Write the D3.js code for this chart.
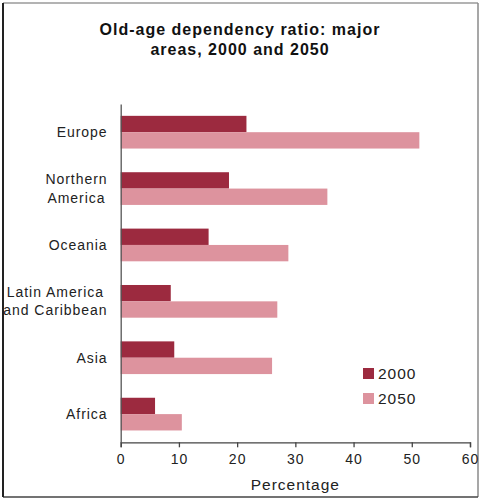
<!DOCTYPE html>
<html>
<head>
<meta charset="utf-8">
<script src="https://cdn.jsdelivr.net/npm/d3@7/dist/d3.min.js"></script>
<style>
  html, body { margin: 0; padding: 0; background: #fff; }
  svg { display: block; font-family: "Liberation Sans", Arial, sans-serif; }
</style>
</head>
<body>
<svg id="chart" width="480" height="500"></svg>
<script>
// Old-age dependency ratio by major area (percent)
const areas = ["Europe", "Northern America", "Oceania", "Latin America and Caribbean", "Asia", "Africa"];
const areaLines = [["Europe"], ["Northern", "America"], ["Oceania"], ["Latin America", "and Caribbean"], ["Asia"], ["Africa"]];
const years = ["2000", "2050"];
const values2000 = [21.6, 18.6, 15.1, 8.6, 9.2, 5.9];
const values2050 = [51.3, 35.5, 28.8, 26.9, 26.0, 10.5];
const xTicks = [0, 10, 20, 30, 40, 50, 60];
const colors = ["#9c2a3f", "#dd939e"];

const svg = d3.select("#chart");

// outer frame
svg.append("line").attr("x1", 3).attr("y1", 3).attr("x2", 478).attr("y2", 3).attr("stroke", "#9a9a9a").attr("stroke-width", 1.5);
svg.append("line").attr("x1", 478).attr("y1", 3).attr("x2", 478).attr("y2", 497).attr("stroke", "#8a8a8a").attr("stroke-width", 1.5);
svg.append("line").attr("x1", 3).attr("y1", 497).attr("x2", 478).attr("y2", 497).attr("stroke", "#444").attr("stroke-width", 1.5);
svg.append("line").attr("x1", 3).attr("y1", 3).attr("x2", 3).attr("y2", 497).attr("stroke", "#222").attr("stroke-width", 2);

// title
const title = svg.append("text")
  .attr("text-anchor", "middle")
  .attr("font-size", 16)
  .attr("font-weight", "bold")
  .attr("letter-spacing", 1)
  .attr("fill", "#111");
title.append("tspan").attr("x", 240).attr("y", 35).text("Old-age dependency ratio: major");
title.append("tspan").attr("x", 240).attr("y", 55).text("areas, 2000 and 2050");

const plotLeft = 120.7, plotRight = 470, plotTop = 104, plotBottom = 442.3;

const x = d3.scaleLinear().domain([0, 60]).range([plotLeft, plotRight]);
const y = d3.scaleBand().domain(areas).range([plotTop, plotBottom]).paddingInner(0.42).paddingOuter(0.21);
const ySub = d3.scaleBand().domain(years).range([0, y.bandwidth()]);

const series = [values2000, values2050];

// bars
const groups = svg.append("g").selectAll("g")
  .data(areas)
  .join("g")
  .attr("transform", d => `translate(0,${y(d)})`);

groups.selectAll("rect")
  .data((d, i) => years.map((yr, k) => ({ yr, v: series[k][i], k })))
  .join("rect")
  .attr("x", x(0))
  .attr("y", d => ySub(d.yr))
  .attr("width", d => x(d.v) - x(0))
  .attr("height", ySub.bandwidth())
  .attr("fill", d => colors[d.k]);

// x axis
const xAxis = svg.append("g")
  .attr("transform", `translate(0,${plotBottom})`)
  .call(d3.axisBottom(x).tickValues(xTicks).tickSize(5).tickPadding(7));
xAxis.select(".domain").attr("stroke", "#444").attr("stroke-width", 1.3);
xAxis.selectAll(".tick line").attr("stroke", "#444").attr("stroke-width", 1.3);
xAxis.selectAll(".tick text")
  .attr("font-size", 14)
  .attr("letter-spacing", 1)
  .attr("fill", "#222")
  .attr("font-family", "Liberation Sans, Arial, sans-serif");

// y axis line (no ticks)
const yAxis = svg.append("g")
  .attr("transform", `translate(${plotLeft},0)`)
  .call(d3.axisLeft(y).tickSize(0).tickFormat(""));
yAxis.select(".domain").attr("stroke", "#555").attr("stroke-width", 1.3);

// category labels: lines centred on each other, block right-aligned to the axis
const labelRight = 107.5;
const labels = svg.append("g").selectAll("text")
  .data(areas)
  .join("text")
  .attr("text-anchor", "middle")
  .attr("font-size", 14)
  .attr("letter-spacing", 0.95)
  .attr("fill", "#222");
labels.each(function (d, i) {
  const lines = areaLines[i];
  const cy = y(d) + y.bandwidth() / 2;
  const lh = 18.5;
  const spans = lines.map((ln, j) =>
    d3.select(this).append("tspan")
      .attr("y", cy + (j - (lines.length - 1) / 2) * lh)
      .attr("dy", "0.35em")
      .text(ln));
  const maxW = d3.max(spans, s => s.node().getComputedTextLength());
  spans.forEach(s => s.attr("x", labelRight - maxW / 2));
});

// x axis title
svg.append("text")
  .attr("x", (plotLeft + plotRight) / 2)
  .attr("y", 490)
  .attr("text-anchor", "middle")
  .attr("font-size", 15.5)
  .attr("letter-spacing", 1)
  .attr("fill", "#222")
  .text("Percentage");

// legend
const legend = svg.append("g").selectAll("g")
  .data(years)
  .join("g")
  .attr("transform", (d, i) => `translate(363,${368 + i * 25})`);
legend.append("rect")
  .attr("width", 11)
  .attr("height", 11)
  .attr("fill", (d, i) => colors[i]);
legend.append("text")
  .attr("x", 15)
  .attr("y", 5.5)
  .attr("dy", "0.36em")
  .attr("font-size", 15.5)
  .attr("letter-spacing", 1)
  .attr("fill", "#222")
  .text(d => d);
</script>
</body>
</html>
